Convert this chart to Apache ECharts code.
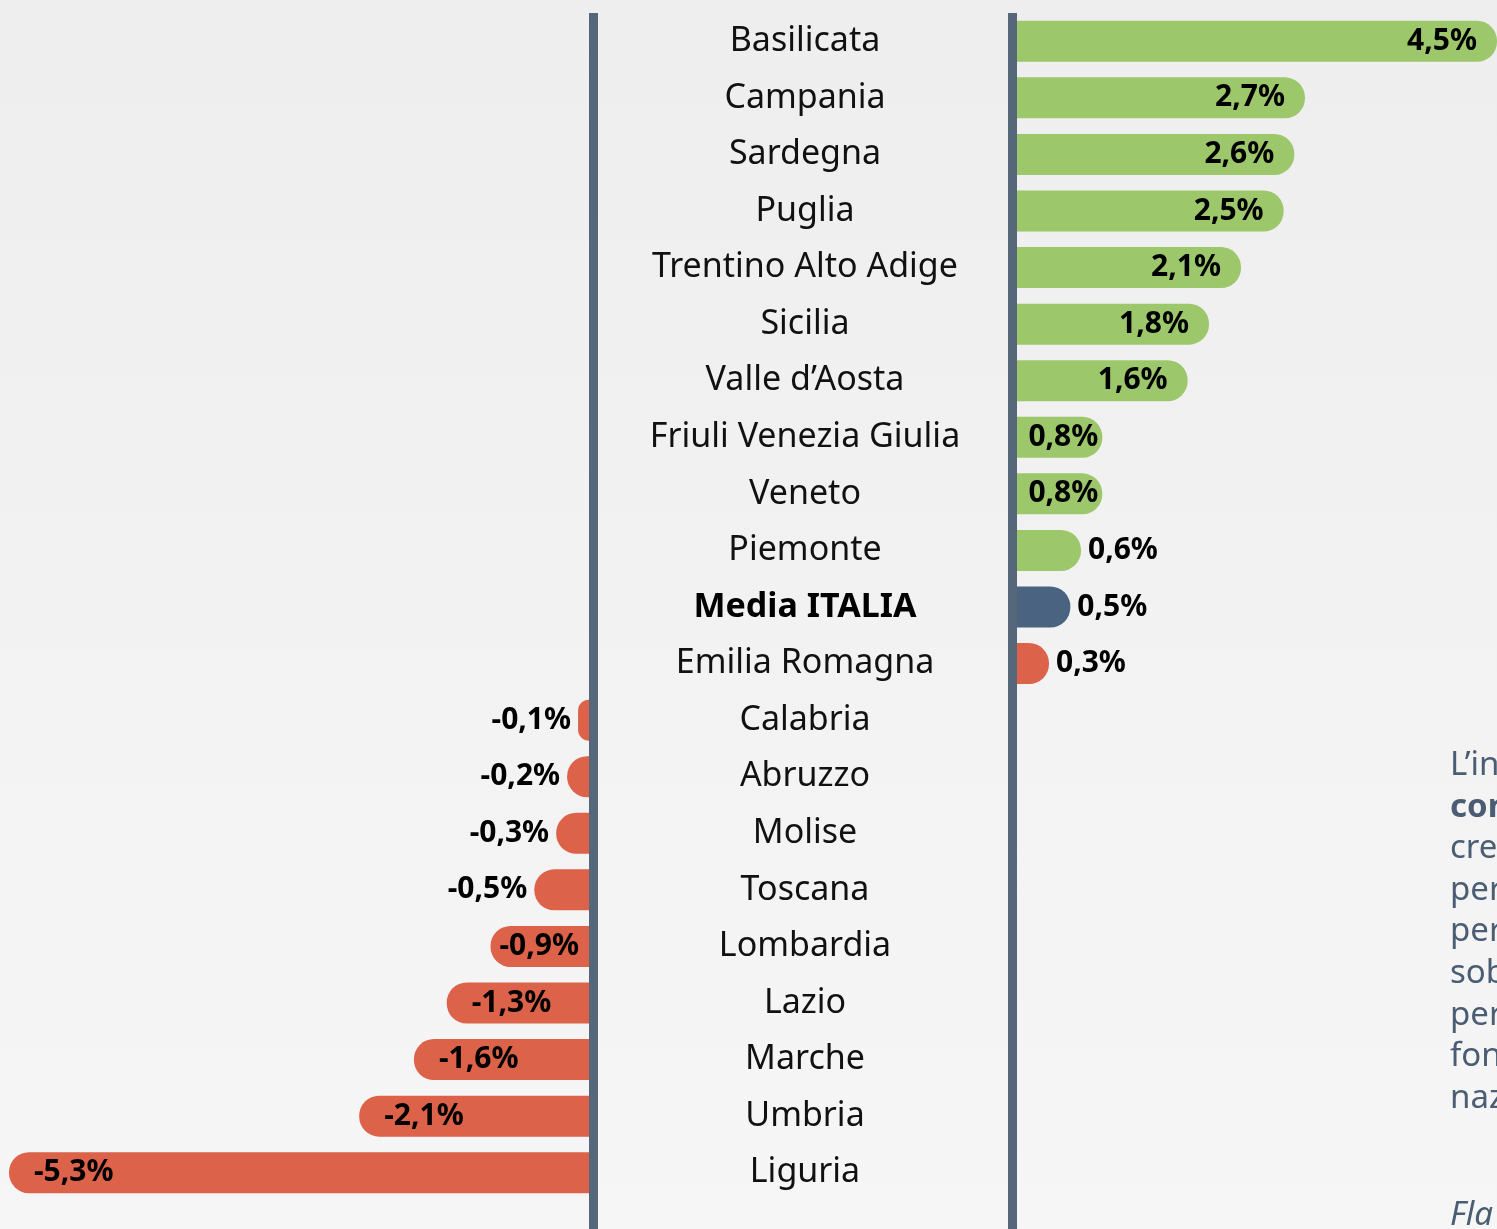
<!DOCTYPE html>
<html>
<head>
<meta charset="utf-8">
<title>Regioni</title>
<script src="https://cdn.jsdelivr.net/npm/echarts@6/dist/echarts.min.js"></script>
<style>
  html, body { margin: 0; padding: 0; overflow: hidden; }
  #chart { width: 1497px; height: 1229px; }
</style>
</head>
<body>
<div id="chart"></div>
<script>
// data
var regions = ['Basilicata', 'Campania', 'Sardegna', 'Puglia', 'Trentino Alto Adige', 'Sicilia',
  'Valle d\u2019Aosta', 'Friuli Venezia Giulia', 'Veneto', 'Piemonte', 'Media ITALIA', 'Emilia Romagna',
  'Calabria', 'Abruzzo', 'Molise', 'Toscana', 'Lombardia', 'Lazio', 'Marche', 'Umbria', 'Liguria'];
var values = [4.5, 2.7, 2.6, 2.5, 2.1, 1.8, 1.6, 0.8, 0.8, 0.6, 0.5, 0.3,
  -0.1, -0.2, -0.3, -0.5, -0.9, -1.3, -1.6, -2.1, -5.3];
var mediaName = 'Media ITALIA';
var sideText = ['L\u2019in', 'con', 'cre', 'per', 'per', 'sob', 'per', 'fon', 'naz'];

var GREEN = '#9dc76b', RED = '#dc624a', BLUE = '#4a6380', LINE = '#56677a';
var mediaVal = values[regions.indexOf(mediaName)];

function fmt(v) {
  return v.toFixed(1).replace('.', ',') + '%';
}
function colorOf(name, v) {
  if (name === mediaName) return BLUE;
  return v > mediaVal ? GREEN : RED;
}

var posData = [], negData = [];
regions.forEach(function (name, i) {
  var v = values[i];
  if (v >= 0) {
    var inside = v >= 0.8;
    posData.push({
      value: v,
      itemStyle: { color: colorOf(name, v) },
      label: { position: inside ? 'insideRight' : 'right', distance: inside ? (v >= 1 ? 20 : 4) : 7 }
    });
    negData.push('-');
  } else {
    var inL = v <= -0.9;
    negData.push({
      value: v,
      itemStyle: { color: colorOf(name, v) },
      label: { position: inL ? 'insideLeft' : 'left', distance: inL ? (v > -1 ? 9 : 25) : 7 }
    });
    posData.push('-');
  }
});

var labelStyle = {
  show: true,
  color: '#000',
  fontFamily: 'Noto Sans',
  fontWeight: 'bold',
  fontSize: 30,
  formatter: function (p) { return fmt(p.value); }
};

var chart = echarts.init(document.getElementById('chart'));

var graphics = [
  { type: 'rect', shape: { x: 589, y: 13, width: 9, height: 1216 }, style: { fill: LINE }, z: 10 },
  { type: 'rect', shape: { x: 1008, y: 13, width: 9, height: 1216 }, style: { fill: LINE }, z: 10 }
];
sideText.forEach(function (t, i) {
  graphics.push({
    type: 'text', x: 1450, y: 749 + i * 41.6,
    style: { text: t, fill: '#4a5d73', font: (i === 1 ? 'bold ' : '') + '33px "Noto Sans"' }
  });
});
graphics.push({
  type: 'text', x: 1450, y: 1199,
  style: { text: 'Fla', fill: '#4a5d73', font: 'italic 33px "Noto Sans"' }
});

chart.setOption({
  backgroundColor: {
    type: 'linear', x: 0, y: 0, x2: 0, y2: 1,
    colorStops: [{ offset: 0, color: '#eeeeee' }, { offset: 1, color: '#f6f6f6' }]
  },
  animation: false,
  grid: [
    { left: 9, width: 580, top: 13, height: 1188 },
    { left: 1017, width: 481.5, top: 13, height: 1188 }
  ],
  xAxis: [
    { gridIndex: 0, type: 'value', min: -5.3, max: 0, show: false },
    { gridIndex: 1, type: 'value', min: 0, max: 4.5, show: false }
  ],
  yAxis: [
    { gridIndex: 0, type: 'category', data: regions, inverse: true, show: false },
    {
      gridIndex: 1, type: 'category', data: regions, inverse: true, position: 'left',
      axisLine: { show: false }, axisTick: { show: false }, splitLine: { show: false },
      axisLabel: {
        align: 'center', margin: 212, color: '#111', fontFamily: 'Noto Sans', fontSize: 34,
        formatter: function (v) { return v === mediaName ? '{b|' + v + '}' : v; },
        rich: { b: { fontWeight: 'bold', fontSize: 34, color: '#000', fontFamily: 'Noto Sans' } }
      }
    }
  ],
  series: [
    {
      type: 'bar', xAxisIndex: 0, yAxisIndex: 0, data: negData, barWidth: 41,
      itemStyle: { borderRadius: [20, 0, 0, 20] }, label: labelStyle
    },
    {
      type: 'bar', xAxisIndex: 1, yAxisIndex: 1, data: posData, barWidth: 41,
      itemStyle: { borderRadius: [0, 20, 20, 0] }, label: labelStyle
    }
  ],
  graphic: graphics
});
</script>
</body>
</html>
